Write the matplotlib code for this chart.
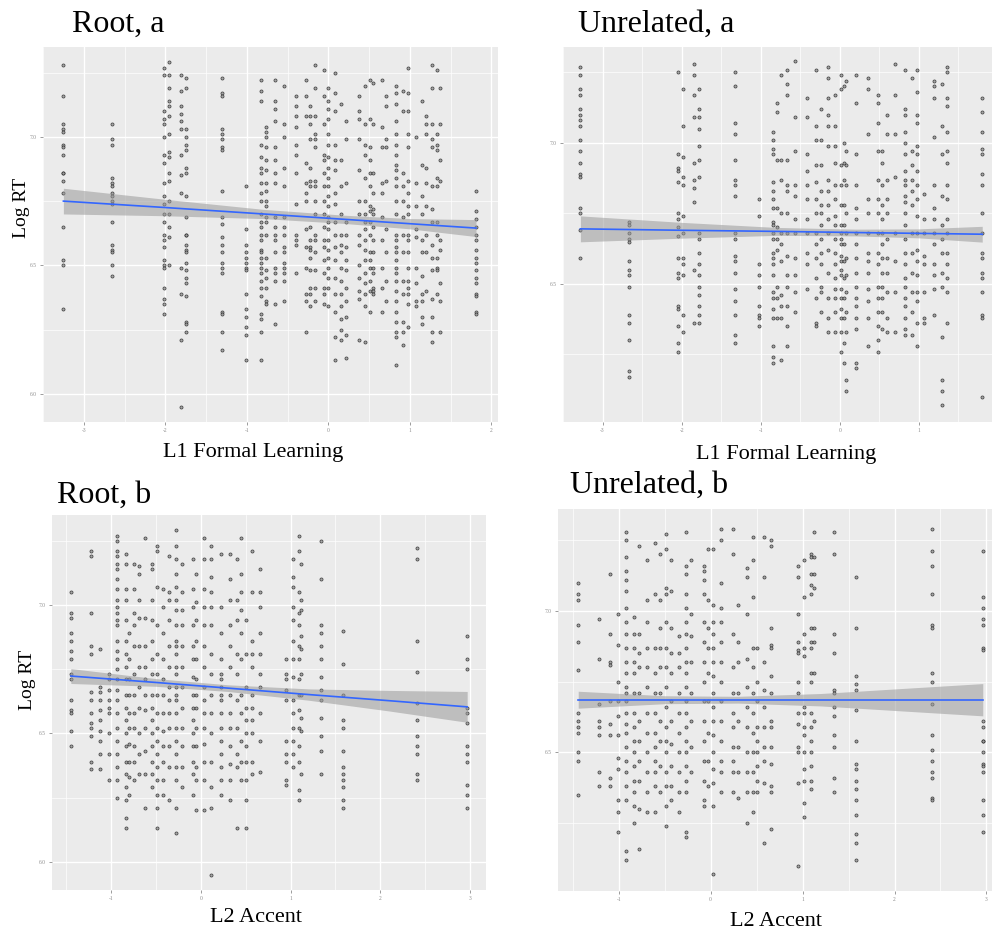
import numpy as np
import matplotlib.pyplot as plt

plt.rcParams['font.family'] = ['Liberation Serif', 'DejaVu Serif']

# ---------------- Root, a  (L1 Formal Learning) ----------------
ra_x = [-3.25, -2.65, -2.02, -1.95, -1.81, -1.75, -1.30, -1.01, -0.83, -0.77,
        -0.65, -0.55, -0.40, -0.27, -0.22, -0.16, -0.06, 0.00, 0.08, 0.15,
        0.22, 0.37, 0.45, 0.51, 0.55, 0.66, 0.71, 0.83, 0.92, 0.98,
        1.08, 1.15, 1.20, 1.27, 1.33, 1.37, 1.81]
ra_y = [
    [7.28, 7.16, 7.05, 7.03, 7.02, 6.97, 6.96, 6.93, 6.86, 6.86, 6.83, 6.78, 6.65, 6.52, 6.50, 6.33],
    [7.05, 6.99, 6.97, 6.84, 6.82, 6.81, 6.78, 6.77, 6.75, 6.74, 6.67, 6.58, 6.56, 6.55, 6.50, 6.46],
    [7.27, 7.24, 7.10, 7.07, 7.05, 7.00, 6.93, 6.90, 6.82, 6.77, 6.74, 6.70, 6.67, 6.62, 6.60, 6.57, 6.52, 6.50, 6.49, 6.41, 6.37, 6.35, 6.31],
    [7.29, 7.24, 7.19, 7.14, 7.12, 7.08, 7.01, 6.94, 6.92, 6.86, 6.83, 6.75, 6.70, 6.65, 6.61, 6.50],
    [7.24, 7.18, 7.12, 7.09, 7.06, 7.03, 6.93, 6.85, 6.78, 6.49, 6.39, 6.21, 5.95],
    [7.23, 7.19, 7.03, 7.00, 6.97, 6.95, 6.88, 6.86, 6.77, 6.69, 6.62, 6.62, 6.58, 6.56, 6.55, 6.51, 6.48, 6.45, 6.43, 6.38, 6.28, 6.27, 6.24],
    [7.23, 7.17, 7.16, 7.03, 7.01, 6.99, 6.96, 6.95, 6.79, 6.69, 6.66, 6.61, 6.58, 6.55, 6.51, 6.49, 6.47, 6.32, 6.31, 6.24, 6.17],
    [6.81, 6.64, 6.58, 6.55, 6.53, 6.51, 6.49, 6.48, 6.39, 6.33, 6.30, 6.26, 6.23, 6.13],
    [7.22, 7.18, 7.14, 6.97, 6.92, 6.88, 6.86, 6.82, 6.78, 6.75, 6.70, 6.67, 6.65, 6.62, 6.60, 6.56, 6.55, 6.53, 6.51, 6.49, 6.47, 6.44, 6.41, 6.38, 6.31, 6.29, 6.24, 6.13],
    [7.04, 7.02, 7.00, 6.96, 6.91, 6.87, 6.82, 6.79, 6.75, 6.73, 6.69, 6.67, 6.62, 6.53, 6.48, 6.45, 6.41, 6.36, 6.35],
    [7.22, 7.14, 7.11, 7.06, 6.96, 6.91, 6.86, 6.82, 6.69, 6.65, 6.62, 6.60, 6.55, 6.49, 6.47, 6.44, 6.35, 6.27],
    [7.20, 7.05, 7.00, 6.88, 6.81, 6.69, 6.65, 6.62, 6.57, 6.55, 6.51, 6.49, 6.47, 6.44, 6.36],
    [7.16, 7.12, 7.08, 7.04, 6.97, 6.93, 6.86, 6.74, 6.62, 6.60, 6.58, 6.47],
    [7.22, 7.16, 7.08, 6.90, 6.82, 6.78, 6.75, 6.64, 6.57, 6.49, 6.39, 6.36, 6.24],
    [7.12, 7.08, 7.05, 6.99, 6.88, 6.83, 6.81, 6.65, 6.60, 6.57, 6.56, 6.53, 6.48, 6.41, 6.39, 6.34],
    [7.28, 7.19, 7.08, 7.01, 6.99, 6.96, 6.83, 6.81, 6.75, 6.70, 6.62, 6.60, 6.55, 6.48, 6.41, 6.36],
    [7.26, 7.16, 7.05, 6.93, 6.91, 6.86, 6.81, 6.75, 6.70, 6.65, 6.60, 6.57, 6.52, 6.47, 6.41, 6.39, 6.35],
    [7.19, 7.14, 7.11, 7.07, 7.01, 6.97, 6.92, 6.88, 6.84, 6.81, 6.77, 6.73, 6.69, 6.67, 6.64, 6.60, 6.56, 6.53, 6.49, 6.45, 6.41, 6.34],
    [7.25, 7.17, 7.10, 6.97, 6.91, 6.87, 6.78, 6.74, 6.67, 6.62, 6.57, 6.52, 6.45, 6.39, 6.32, 6.22, 6.13],
    [7.13, 6.91, 6.81, 6.70, 6.62, 6.58, 6.55, 6.49, 6.44, 6.39, 6.34, 6.29, 6.25, 6.21],
    [7.06, 6.99, 6.82, 6.67, 6.62, 6.57, 6.52, 6.48, 6.41, 6.36, 6.30, 6.23, 6.14],
    [7.16, 7.10, 7.07, 6.99, 6.87, 6.75, 6.70, 6.62, 6.58, 6.50, 6.45, 6.40, 6.37, 6.21],
    [7.20, 7.05, 6.97, 6.93, 6.84, 6.75, 6.70, 6.67, 6.64, 6.60, 6.56, 6.52, 6.47, 6.43, 6.39, 6.34, 6.20],
    [7.22, 7.07, 6.96, 6.91, 6.86, 6.81, 6.73, 6.71, 6.67, 6.62, 6.55, 6.52, 6.49, 6.44, 6.40, 6.32],
    [7.21, 7.05, 6.86, 6.78, 6.72, 6.70, 6.65, 6.60, 6.55, 6.49, 6.47, 6.41, 6.40, 6.39],
    [7.22, 7.04, 6.96, 6.82, 6.78, 6.69, 6.60, 6.49, 6.41, 6.32],
    [7.16, 7.12, 6.99, 6.96, 6.83, 6.64, 6.55, 6.44, 6.36],
    [7.20, 7.17, 7.13, 7.06, 7.01, 6.97, 6.93, 6.89, 6.87, 6.84, 6.81, 6.75, 6.70, 6.62, 6.60, 6.57, 6.55, 6.52, 6.49, 6.47, 6.44, 6.40, 6.36, 6.32, 6.28, 6.24, 6.22, 6.11],
    [7.18, 7.10, 6.86, 6.81, 6.75, 6.69, 6.62, 6.55, 6.44, 6.39, 6.28, 6.24, 6.19],
    [7.27, 7.17, 7.10, 7.01, 6.96, 6.83, 6.78, 6.73, 6.70, 6.62, 6.60, 6.55, 6.49, 6.44, 6.41, 6.39, 6.35, 6.26],
    [7.00, 6.82, 6.73, 6.64, 6.61, 6.49, 6.43, 6.36, 6.34],
    [7.14, 6.89, 6.77, 6.70, 6.60, 6.55, 6.46, 6.39, 6.36, 6.30, 6.27],
    [7.08, 7.05, 7.01, 6.88, 6.82, 6.73, 6.62, 6.55, 6.40],
    [7.28, 7.19, 7.05, 6.99, 6.96, 6.81, 6.72, 6.67, 6.58, 6.53, 6.48, 6.37, 6.30, 6.24, 6.20],
    [7.26, 7.01, 6.97, 6.95, 6.84, 6.81, 6.67, 6.62, 6.53, 6.49, 6.48, 6.39],
    [7.19, 7.05, 6.91, 6.83, 6.60, 6.56, 6.43, 6.36, 6.24],
    [6.79, 6.71, 6.68, 6.65, 6.62, 6.60, 6.56, 6.53, 6.51, 6.48, 6.45, 6.43, 6.39, 6.38, 6.32, 6.31],
]
ra_fit_x = [-3.25, -2.0, -0.8, 0.2, 1.0, 1.81]
ra_fit_y = [6.750, 6.725, 6.700, 6.679, 6.662, 6.645]
ra_fit_lo = [6.700, 6.693, 6.682, 6.663, 6.642, 6.612]
ra_fit_hi = [6.800, 6.757, 6.718, 6.695, 6.682, 6.678]

# ---------------- Unrelated, a  (L1 Formal Learning) ----------------
ua_x = [-3.28, -2.67, -2.04, -1.98, -1.84, -1.78, -1.32, -1.02, -0.85, -0.80,
        -0.74, -0.67, -0.57, -0.42, -0.30, -0.24, -0.15, -0.06, 0.01, 0.05,
        0.08, 0.20, 0.36, 0.48, 0.53, 0.59, 0.70, 0.83, 0.91, 0.97,
        1.06, 1.19, 1.29, 1.36, 1.80]
ua_y = [
    [7.27, 7.24, 7.19, 7.17, 7.12, 7.10, 7.08, 7.06, 7.01, 6.97, 6.93, 6.89, 6.88, 6.77, 6.75, 6.69, 6.59],
    [6.72, 6.71, 6.68, 6.66, 6.65, 6.58, 6.55, 6.53, 6.49, 6.39, 6.36, 6.30, 6.19, 6.17],
    [7.25, 6.96, 6.91, 6.90, 6.86, 6.75, 6.73, 6.70, 6.67, 6.59, 6.54, 6.52, 6.42, 6.41, 6.35, 6.29, 6.26],
    [7.19, 7.06, 6.95, 6.88, 6.85, 6.74, 6.68, 6.59, 6.57, 6.53, 6.39, 6.33],
    [7.28, 7.24, 7.17, 7.09, 6.93, 6.87, 6.84, 6.79, 6.55, 6.36],
    [7.19, 7.12, 7.09, 7.05, 6.99, 6.94, 6.88, 6.68, 6.66, 6.61, 6.57, 6.53, 6.49, 6.46, 6.42, 6.39, 6.36],
    [7.25, 7.20, 7.07, 7.03, 6.94, 6.87, 6.85, 6.81, 6.68, 6.66, 6.60, 6.58, 6.54, 6.48, 6.44, 6.39, 6.32, 6.29],
    [6.80, 6.74, 6.57, 6.53, 6.49, 6.42, 6.39, 6.38, 6.35],
    [7.04, 7.01, 6.98, 6.96, 6.86, 6.83, 6.80, 6.77, 6.72, 6.71, 6.68, 6.66, 6.61, 6.59, 6.57, 6.53, 6.47, 6.45, 6.41, 6.38, 6.28, 6.24, 6.22],
    [7.14, 7.11, 6.94, 6.77, 6.70, 6.66, 6.62, 6.49, 6.45, 6.38],
    [7.24, 6.94, 6.87, 6.75, 6.68, 6.64, 6.58, 6.46, 6.42, 6.38, 6.23],
    [7.26, 7.21, 7.17, 6.94, 6.85, 6.83, 6.75, 6.68, 6.60, 6.53, 6.49, 6.42, 6.35, 6.28],
    [7.29, 7.09, 6.97, 6.85, 6.81, 6.73, 6.68, 6.59, 6.53, 6.47, 6.40],
    [7.16, 7.09, 6.96, 6.90, 6.85, 6.80, 6.73, 6.68, 6.61, 6.57, 6.48],
    [7.26, 7.06, 7.01, 6.92, 6.86, 6.80, 6.75, 6.68, 6.64, 6.59, 6.52, 6.45, 6.36, 6.35],
    [7.12, 7.01, 6.92, 6.83, 6.78, 6.75, 6.71, 6.66, 6.61, 6.57, 6.49, 6.47, 6.40],
    [7.27, 7.23, 7.16, 7.10, 7.06, 6.99, 6.87, 6.83, 6.78, 6.73, 6.68, 6.62, 6.54, 6.45, 6.38, 6.33],
    [7.17, 7.06, 6.99, 6.93, 6.85, 6.80, 6.74, 6.71, 6.66, 6.61, 6.57, 6.52, 6.48, 6.45, 6.40, 6.33],
    [7.24, 7.19, 6.92, 6.85, 6.78, 6.71, 6.68, 6.66, 6.64, 6.60, 6.58, 6.55, 6.53, 6.48, 6.45, 6.41, 6.38, 6.33, 6.26],
    [7.20, 7.00, 6.93, 6.87, 6.78, 6.71, 6.64, 6.58, 6.52, 6.45, 6.38, 6.29, 6.22],
    [7.22, 6.97, 6.92, 6.85, 6.75, 6.68, 6.59, 6.53, 6.47, 6.40, 6.33, 6.16, 6.12],
    [7.24, 7.14, 6.96, 6.85, 6.77, 6.73, 6.68, 6.64, 6.59, 6.54, 6.49, 6.45, 6.42, 6.38, 6.34, 6.22, 6.20],
    [7.23, 7.19, 7.03, 6.80, 6.75, 6.68, 6.61, 6.58, 6.54, 6.48, 6.44, 6.38, 6.28],
    [7.17, 7.14, 7.07, 6.97, 6.87, 6.80, 6.75, 6.68, 6.61, 6.57, 6.49, 6.45, 6.40, 6.35, 6.30, 6.26],
    [6.97, 6.93, 6.85, 6.78, 6.73, 6.68, 6.64, 6.59, 6.54, 6.49, 6.45, 6.40, 6.34],
    [7.10, 7.03, 6.87, 6.80, 6.75, 6.66, 6.59, 6.54, 6.47, 6.38, 6.33],
    [7.28, 7.17, 7.03, 6.88, 6.68, 6.58, 6.47, 6.33],
    [7.26, 7.12, 7.10, 7.04, 7.00, 6.96, 6.90, 6.87, 6.85, 6.81, 6.79, 6.75, 6.71, 6.66, 6.61, 6.57, 6.52, 6.49, 6.45, 6.42, 6.38, 6.34, 6.32],
    [7.23, 6.97, 6.92, 6.87, 6.83, 6.78, 6.68, 6.61, 6.54, 6.47, 6.40, 6.32],
    [7.26, 7.18, 7.10, 7.07, 6.99, 6.96, 6.90, 6.85, 6.80, 6.74, 6.68, 6.62, 6.58, 6.53, 6.47, 6.44, 6.36, 6.28],
    [6.82, 6.73, 6.68, 6.60, 6.57, 6.47, 6.38, 6.36],
    [7.22, 7.20, 7.16, 7.02, 6.85, 6.77, 6.73, 6.68, 6.64, 6.57, 6.53, 6.48, 6.39],
    [7.21, 7.06, 6.96, 6.81, 6.71, 6.66, 6.61, 6.54, 6.49, 6.31, 6.16, 6.12, 6.07],
    [7.27, 7.25, 7.16, 7.13, 7.04, 6.97, 6.93, 6.85, 6.80, 6.73, 6.68, 6.61, 6.57, 6.52, 6.47, 6.36],
    [7.16, 7.11, 7.04, 6.98, 6.96, 6.89, 6.85, 6.75, 6.68, 6.61, 6.59, 6.54, 6.52, 6.47, 6.39, 6.38, 6.10],
]
ua_fit_x = [-3.28, -2.0, -0.8, 0.2, 1.0, 1.80]
ua_fit_y = [6.695, 6.690, 6.686, 6.682, 6.679, 6.676]
ua_fit_lo = [6.649, 6.662, 6.672, 6.670, 6.663, 6.648]
ua_fit_hi = [6.741, 6.718, 6.700, 6.694, 6.695, 6.704]

# ---------------- Root, b  (L2 Accent) ----------------
rb_x = [-1.45, -1.22, -1.12, -1.02, -0.93, -0.84, -0.80, -0.74, -0.69, -0.62,
        -0.55, -0.49, -0.42, -0.35, -0.28, -0.21, -0.09, -0.05, 0.03, 0.11,
        0.22, 0.33, 0.40, 0.45, 0.50, 0.57, 0.66, 0.95, 1.03, 1.09,
        1.12, 1.34, 1.58, 2.41, 2.97]
rb_y = [
    [7.05, 6.97, 6.95, 6.89, 6.86, 6.82, 6.79, 6.73, 6.71, 6.63, 6.59, 6.58, 6.51, 6.45],
    [7.21, 7.19, 6.97, 6.84, 6.81, 6.66, 6.63, 6.58, 6.54, 6.52, 6.49, 6.39, 6.36],
    [6.83, 6.68, 6.66, 6.63, 6.59, 6.55, 6.51, 6.47, 6.42, 6.36],
    [6.73, 6.71, 6.67, 6.63, 6.60, 6.58, 6.50, 6.42, 6.32],
    [7.27, 7.25, 7.21, 7.19, 7.16, 7.14, 7.10, 7.06, 7.02, 6.99, 6.97, 6.94, 6.92, 6.86, 6.82, 6.79, 6.75, 6.71, 6.67, 6.63, 6.58, 6.52, 6.47, 6.42, 6.37, 6.32, 6.25],
    [7.20, 7.16, 7.06, 7.02, 6.94, 6.86, 6.81, 6.76, 6.71, 6.65, 6.60, 6.55, 6.50, 6.45, 6.39, 6.34, 6.29, 6.24, 6.17, 6.13],
    [6.89, 6.79, 6.71, 6.65, 6.58, 6.52, 6.46, 6.39, 6.33, 6.26],
    [7.16, 7.06, 6.97, 6.92, 6.84, 6.73, 6.65, 6.58, 6.52, 6.45, 6.39, 6.32],
    [7.15, 7.12, 7.02, 6.95, 6.84, 6.76, 6.68, 6.60, 6.50, 6.42, 6.34],
    [7.26, 6.95, 6.84, 6.76, 6.71, 6.65, 6.59, 6.52, 6.43, 6.34, 6.21],
    [7.16, 7.14, 7.02, 6.94, 6.86, 6.79, 6.73, 6.65, 6.60, 6.55, 6.50, 6.45, 6.39, 6.34, 6.29],
    [7.23, 7.21, 7.07, 6.92, 6.81, 6.73, 6.65, 6.58, 6.52, 6.47, 6.42, 6.37, 6.32, 6.26, 6.21, 6.13],
    [7.06, 6.99, 6.89, 6.79, 6.71, 6.65, 6.58, 6.51, 6.45, 6.39, 6.32, 6.26],
    [7.19, 7.05, 7.02, 6.94, 6.84, 6.76, 6.68, 6.63, 6.58, 6.52, 6.45, 6.37, 6.24],
    [7.29, 7.23, 7.18, 7.12, 7.07, 7.02, 6.98, 6.92, 6.86, 6.84, 6.81, 6.76, 6.73, 6.68, 6.65, 6.63, 6.58, 6.52, 6.47, 6.42, 6.37, 6.32, 6.21, 6.11],
    [7.16, 7.05, 6.98, 6.92, 6.84, 6.76, 6.68, 6.60, 6.52, 6.45, 6.37, 6.29],
    [7.18, 7.06, 6.99, 6.92, 6.84, 6.79, 6.72, 6.65, 6.60, 6.55, 6.50, 6.45, 6.39, 6.34, 6.26],
    [7.12, 7.01, 6.94, 6.86, 6.79, 6.71, 6.65, 6.60, 6.52, 6.45, 6.37, 6.32, 6.20],
    [7.26, 7.18, 7.06, 6.99, 6.92, 6.84, 6.76, 6.68, 6.63, 6.58, 6.52, 6.46, 6.39, 6.32, 6.20],
    [7.23, 7.18, 7.11, 7.05, 6.99, 6.92, 6.81, 6.73, 6.65, 6.58, 6.50, 6.39, 6.29, 6.21, 5.95],
    [7.20, 6.99, 6.89, 6.79, 6.73, 6.71, 6.68, 6.65, 6.63, 6.58, 6.52, 6.47, 6.42, 6.37, 6.32, 6.26],
    [7.20, 7.10, 7.02, 6.92, 6.84, 6.76, 6.65, 6.58, 6.52, 6.45, 6.38, 6.32, 6.24],
    [7.18, 7.02, 6.94, 6.81, 6.73, 6.63, 6.52, 6.42, 6.37, 6.13],
    [7.26, 7.12, 7.05, 6.98, 6.89, 6.79, 6.65, 6.58, 6.47, 6.39, 6.32],
    [6.94, 6.81, 6.68, 6.60, 6.55, 6.50, 6.45, 6.39, 6.32, 6.24, 6.13],
    [7.21, 7.05, 6.86, 6.81, 6.76, 6.65, 6.60, 6.55, 6.50, 6.39, 6.34],
    [7.14, 7.05, 6.99, 6.89, 6.81, 6.73, 6.68, 6.58, 6.47, 6.35],
    [6.79, 6.73, 6.71, 6.67, 6.63, 6.47, 6.42, 6.39, 6.32, 6.30],
    [7.18, 7.11, 7.07, 6.99, 6.94, 6.86, 6.79, 6.72, 6.63, 6.58, 6.52, 6.47, 6.42, 6.37],
    [7.27, 7.21, 7.05, 6.97, 6.92, 6.84, 6.79, 6.71, 6.65, 6.59, 6.52, 6.45, 6.39, 6.28, 6.24],
    [7.16, 7.02, 6.98, 6.88, 6.83, 6.73, 6.65, 6.56, 6.51, 6.34],
    [7.25, 7.10, 6.92, 6.89, 6.84, 6.79, 6.72, 6.67, 6.63, 6.56, 6.49, 6.43, 6.34],
    [6.90, 6.77, 6.65, 6.55, 6.52, 6.43, 6.37, 6.34, 6.32, 6.29, 6.24, 6.21],
    [7.22, 7.18, 6.86, 6.74, 6.62, 6.55, 6.49, 6.45, 6.42, 6.34, 6.32],
    [6.88, 6.79, 6.75, 6.60, 6.58, 6.54, 6.45, 6.42, 6.39, 6.30, 6.26, 6.21],
]
rb_fit_x = [-1.45, -0.5, 0.3, 1.2, 2.1, 2.97]
rb_fit_y = [6.723, 6.698, 6.676, 6.651, 6.627, 6.603]
rb_fit_lo = [6.694, 6.683, 6.663, 6.629, 6.587, 6.543]
rb_fit_hi = [6.752, 6.713, 6.689, 6.673, 6.667, 6.663]

# ---------------- Unrelated, b  (L2 Accent) ----------------
ub_x = [-1.44, -1.21, -1.09, -1.01, -0.92, -0.83, -0.78, -0.69, -0.61, -0.55,
        -0.49, -0.43, -0.34, -0.27, -0.21, -0.07, -0.03, 0.03, 0.11, 0.24,
        0.30, 0.40, 0.46, 0.50, 0.58, 0.66, 0.95, 1.02, 1.09, 1.12,
        1.34, 1.58, 2.41, 2.96]
ub_y = [
    [7.10, 7.06, 7.04, 6.95, 6.89, 6.79, 6.64, 6.61, 6.59, 6.57, 6.50, 6.47, 6.35],
    [6.97, 6.83, 6.67, 6.61, 6.59, 6.56, 6.43, 6.38],
    [7.13, 6.92, 6.82, 6.81, 6.68, 6.60, 6.56, 6.41, 6.38],
    [6.99, 6.88, 6.75, 6.68, 6.63, 6.56, 6.48, 6.44, 6.33, 6.29, 6.22],
    [7.28, 7.25, 7.19, 7.14, 7.11, 7.07, 7.01, 6.96, 6.92, 6.87, 6.82, 6.78, 6.73, 6.71, 6.68, 6.64, 6.60, 6.57, 6.52, 6.47, 6.43, 6.38, 6.33, 6.15, 6.12],
    [6.98, 6.92, 6.87, 6.82, 6.78, 6.71, 6.64, 6.59, 6.54, 6.50, 6.45, 6.40, 6.36, 6.31, 6.25],
    [7.23, 6.92, 6.85, 6.80, 6.71, 6.61, 6.54, 6.47, 6.40, 6.30, 6.16],
    [7.18, 7.04, 6.96, 6.87, 6.80, 6.73, 6.64, 6.57, 6.50, 6.43, 6.36, 6.29],
    [7.24, 7.06, 6.87, 6.78, 6.71, 6.64, 6.57, 6.52, 6.47, 6.43, 6.38, 6.29],
    [7.20, 7.04, 6.94, 6.87, 6.80, 6.71, 6.61, 6.54, 6.45, 6.36],
    [7.27, 7.22, 7.08, 7.06, 6.96, 6.87, 6.80, 6.73, 6.66, 6.59, 6.54, 6.50, 6.43, 6.38, 6.31, 6.24],
    [7.18, 7.07, 6.94, 6.85, 6.78, 6.68, 6.61, 6.53, 6.45, 6.38, 6.33],
    [6.91, 6.85, 6.80, 6.71, 6.64, 6.57, 6.50, 6.43, 6.36, 6.29],
    [7.28, 7.16, 7.13, 7.06, 7.01, 6.96, 6.92, 6.87, 6.82, 6.78, 6.73, 6.68, 6.64, 6.59, 6.54, 6.50, 6.45, 6.40, 6.36, 6.22, 6.20],
    [7.18, 6.99, 6.91, 6.82, 6.71, 6.61, 6.52, 6.43],
    [7.16, 7.14, 7.11, 7.06, 6.96, 6.89, 6.82, 6.75, 6.68, 6.61, 6.54, 6.47, 6.40, 6.33, 6.31],
    [7.22, 7.04, 6.94, 6.87, 6.78, 6.68, 6.57, 6.47, 6.38],
    [7.22, 7.02, 6.96, 6.92, 6.87, 6.82, 6.77, 6.71, 6.66, 6.61, 6.56, 6.50, 6.44, 6.39, 6.31, 6.07],
    [7.29, 7.25, 7.10, 7.01, 6.96, 6.89, 6.82, 6.75, 6.68, 6.61, 6.54, 6.47, 6.43, 6.36],
    [7.29, 7.20, 6.92, 6.80, 6.71, 6.64, 6.59, 6.52, 6.47, 6.43, 6.36],
    [7.02, 6.89, 6.82, 6.71, 6.61, 6.52, 6.43, 6.34],
    [7.15, 7.12, 6.99, 6.83, 6.73, 6.66, 6.59, 6.50, 6.43, 6.36, 6.25],
    [7.26, 7.18, 7.05, 6.87, 6.80, 6.71, 6.64, 6.57, 6.50, 6.43, 6.36, 6.29],
    [6.87, 6.75, 6.68, 6.59, 6.54, 6.50, 6.45, 6.40, 6.36],
    [7.26, 7.12, 6.82, 6.72, 6.66, 6.59, 6.52, 6.47, 6.39, 6.18],
    [7.25, 7.23, 6.94, 6.88, 6.87, 6.77, 6.71, 6.61, 6.59, 6.52, 6.46, 6.38, 6.36, 6.23],
    [7.16, 7.12, 6.99, 6.89, 6.86, 6.85, 6.75, 6.71, 6.64, 6.60, 6.52, 6.50, 6.39, 6.10],
    [7.18, 7.05, 6.92, 6.87, 6.84, 6.66, 6.64, 6.59, 6.56, 6.50, 6.44, 6.40, 6.32, 6.27],
    [7.20, 7.19, 7.13, 7.09, 7.06, 6.94, 6.89, 6.87, 6.78, 6.75, 6.64, 6.59, 6.54, 6.50, 6.45, 6.40, 6.37],
    [7.28, 7.19, 7.13, 7.08, 6.94, 6.89, 6.78, 6.61],
    [7.28, 7.20, 6.92, 6.85, 6.72, 6.71, 6.66, 6.63, 6.56, 6.52, 6.41, 6.36],
    [7.12, 6.94, 6.77, 6.74, 6.72, 6.65, 6.54, 6.46, 6.44, 6.40, 6.37, 6.33, 6.28, 6.21, 6.18, 6.12],
    [7.29, 7.21, 7.16, 7.06, 6.95, 6.94, 6.78, 6.75, 6.67, 6.56, 6.51, 6.47, 6.43, 6.41, 6.34, 6.33],
    [7.21, 7.05, 7.01, 6.97, 6.95, 6.87, 6.86, 6.61, 6.59, 6.54, 6.54, 6.50, 6.46, 6.45, 6.43, 6.33, 6.28, 6.22],
]
ub_fit_x = [-1.44, -0.5, 0.3, 1.2, 2.1, 2.96]
ub_fit_y = [6.686, 6.686, 6.686, 6.686, 6.686, 6.686]
ub_fit_lo = [6.656, 6.672, 6.674, 6.664, 6.646, 6.629]
ub_fit_hi = [6.716, 6.700, 6.698, 6.708, 6.726, 6.743]

W, H = 992, 934
fig = plt.figure(figsize=(W / 100, H / 100), dpi=100)
fig.patch.set_facecolor('white')


def px_axes(left, top, right, bottom):
    return fig.add_axes([left / W, 1 - bottom / H, (right - left) / W, (bottom - top) / H])


def draw_panel(ax, cols_x, cols_y, fx, fy, flo, fhi, xlim, ylim, xmaj, xmin, ymaj, ymin):
    xs = np.repeat(cols_x, [len(c) for c in cols_y])
    ys = np.concatenate(cols_y)
    ax.set_facecolor('#EBEBEB')
    ax.scatter(xs, ys, s=5, facecolor='#9c9c9c', edgecolor='#222222',
               linewidths=0.5, alpha=0.85, zorder=2)
    ax.fill_between(fx, flo, fhi, color='#999999', alpha=0.55, lw=0, zorder=3)
    ax.plot(fx, fy, color='#3366FF', lw=1.2, zorder=4)
    ax.set_xlim(xlim)
    ax.set_ylim(ylim)
    ax.set_xticks(xmaj)
    ax.set_xticklabels([f'{v:g}' for v in xmaj])
    ax.set_xticks(xmin, minor=True)
    ax.set_yticks(ymaj)
    ax.set_yticklabels([f'{v:.1f}' for v in ymaj])
    ax.set_yticks(ymin, minor=True)
    ax.grid(which='major', color='white', lw=1.0)
    ax.grid(which='minor', color='white', lw=0.5)
    ax.set_axisbelow(True)
    for s in ax.spines.values():
        s.set_visible(False)
    ax.tick_params(which='major', length=2.5, width=0.6, color='#8c8c8c',
                   labelsize=4, labelcolor='#8c8c8c', pad=2)
    ax.tick_params(which='minor', length=0)


ax1 = px_axes(43, 47, 498, 422)
draw_panel(ax1, ra_x, ra_y, ra_fit_x, ra_fit_y, ra_fit_lo, ra_fit_hi,
           (-3.49, 2.08), (5.89, 7.35), [-3, -2, -1, 0, 1, 2],
           [-3.5, -2.5, -1.5, -0.5, 0.5, 1.5], [6.0, 6.5, 7.0], [6.25, 6.75, 7.25])

# right edge of this panel runs past the picture, so its "2" tick is not shown
ax2 = px_axes(563, 47, 1002, 422)
draw_panel(ax2, ua_x, ua_y, ua_fit_x, ua_fit_y, ua_fit_lo, ua_fit_hi,
           (-3.5, 2.05), (6.01, 7.34), [-3, -2, -1, 0, 1],
           [-3.5, -2.5, -1.5, -0.5, 0.5, 1.5], [6.5, 7.0], [6.25, 6.75, 7.25])

ax3 = px_axes(52, 515, 486, 890)
draw_panel(ax3, rb_x, rb_y, rb_fit_x, rb_fit_y, rb_fit_lo, rb_fit_hi,
           (-1.66, 3.18), (5.89, 7.35), [-1, 0, 1, 2, 3],
           [-1.5, -0.5, 0.5, 1.5, 2.5], [6.0, 6.5, 7.0], [6.25, 6.75, 7.25])

ax4 = px_axes(558, 509, 1003, 891)
draw_panel(ax4, ub_x, ub_y, ub_fit_x, ub_fit_y, ub_fit_lo, ub_fit_hi,
           (-1.66, 3.18), (6.01, 7.36), [-1, 0, 1, 2, 3],
           [-1.5, -0.5, 0.5, 1.5, 2.5], [6.5, 7.0], [6.25, 6.75, 7.25])


def ftext(x, y, s, **kw):
    fig.text(x / W, 1 - y / H, s, **kw)


# panel titles
ftext(72, 32, 'Root, a', fontsize=23, ha='left', va='baseline')
ftext(578, 32, 'Unrelated, a', fontsize=23, ha='left', va='baseline')
ftext(57, 503, 'Root, b', fontsize=23, ha='left', va='baseline')
ftext(570, 493, 'Unrelated, b', fontsize=23, ha='left', va='baseline')

# axis labels
ftext(22, 208, 'Log RT', fontsize=14, rotation=90, ha='center', va='center')
ftext(28, 680, 'Log RT', fontsize=14, rotation=90, ha='center', va='center')
ftext(253, 453, 'L1 Formal Learning', fontsize=16, ha='center', va='center')
ftext(786, 455, 'L1 Formal Learning', fontsize=16, ha='center', va='center')
ftext(256, 918, 'L2 Accent', fontsize=16, ha='center', va='center')
ftext(776, 922, 'L2 Accent', fontsize=16, ha='center', va='center')

fig.savefig('out.png', dpi=100)
